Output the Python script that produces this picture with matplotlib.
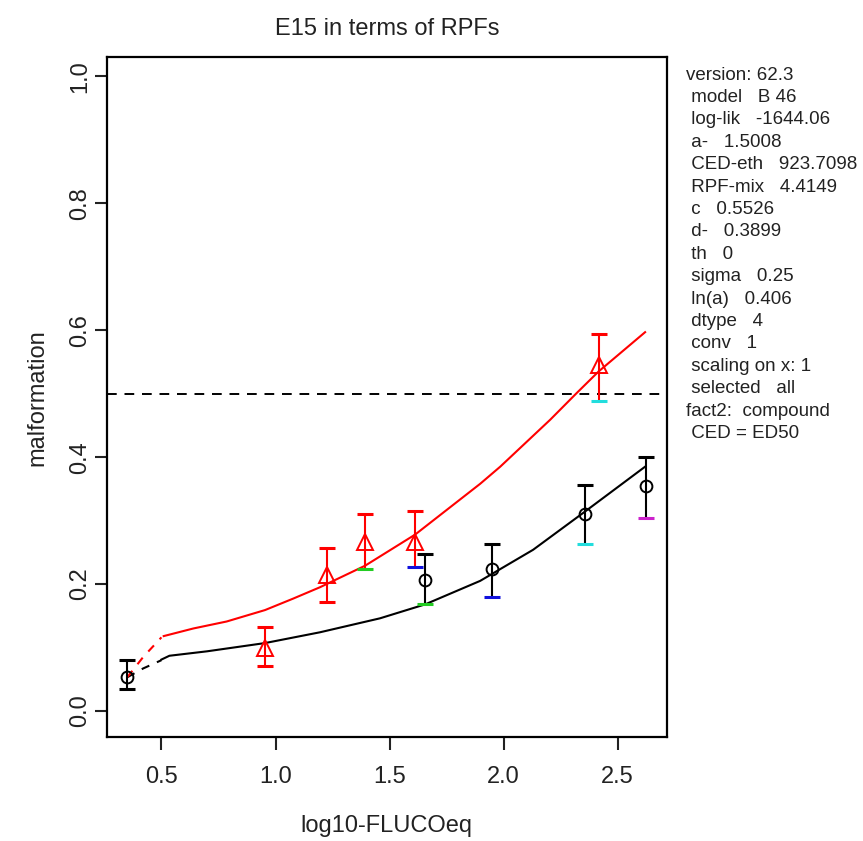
import matplotlib
matplotlib.use("Agg")
import matplotlib.pyplot as plt
import numpy as np

plt.rcParams['font.family'] = ['Liberation Sans', 'DejaVu Sans']

# ---- data ----
# black series (circles)
blk_x = [0.349, 1.656, 1.951, 2.357, 2.625]
blk_y = [0.053, 0.207, 0.223, 0.310, 0.354]
blk_hi = [0.081, 0.247, 0.263, 0.356, 0.400]
blk_lo = [0.034, 0.168, 0.179, 0.263, 0.304]
blk_lo_col = ['black', '#22cc22', '#1010dd', '#22dddd', '#cc22cc']

# red series (triangles)
red_x = [0.954, 1.225, 1.393, 1.612, 2.416]
red_y = [0.099, 0.214, 0.267, 0.267, 0.545]
red_hi = [0.133, 0.257, 0.310, 0.315, 0.594]
red_lo = [0.071, 0.172, 0.224, 0.227, 0.488]
red_lo_col = ['red', 'red', '#22cc22', '#1010dd', '#22dddd']

# fitted curves
blk_fit_dash_x = [0.35, 0.42, 0.50]
blk_fit_dash_y = [0.053, 0.067, 0.080]
blk_fit_x = [0.50, 0.535, 0.70, 0.954, 1.195, 1.458, 1.656, 1.897, 2.129, 2.348, 2.62]
blk_fit_y = [0.081, 0.087, 0.094, 0.107, 0.124, 0.146, 0.168, 0.205, 0.254, 0.312, 0.385]

red_fit_dash_x = [0.35, 0.42, 0.50]
red_fit_dash_y = [0.053, 0.085, 0.116]
red_fit_x = [0.51, 0.64, 0.786, 0.954, 1.077, 1.195, 1.393, 1.612, 1.897, 1.985, 2.204, 2.32, 2.416, 2.62]
red_fit_y = [0.118, 0.130, 0.141, 0.159, 0.177, 0.195, 0.229, 0.278, 0.358, 0.385, 0.459, 0.501, 0.535, 0.597]

ced_level = 0.5

x_ticks = [0.5, 1.0, 1.5, 2.0, 2.5]
y_ticks = [0.0, 0.2, 0.4, 0.6, 0.8, 1.0]

info_lines = [
    "version: 62.3",
    " model   B 46",
    " log-lik   -1644.06",
    " a-   1.5008",
    " CED-eth   923.7098",
    " RPF-mix   4.4149",
    " c   0.5526",
    " d-   0.3899",
    " th   0",
    " sigma   0.25",
    " ln(a)   0.406",
    " dtype   4",
    " conv   1",
    " scaling on x: 1",
    " selected   all",
    "fact2:  compound",
    " CED = ED50",
]

# ---- figure ----
fig = plt.figure(figsize=(8.63, 8.41), dpi=100)
ax = fig.add_axes([0.1236, 0.1237, 0.6493, 0.808])

lw = 1.5
# reference line
ax.axhline(ced_level, color='black', lw=1.4, ls=(0, (5, 4)))

# curves
ax.plot(blk_fit_dash_x, blk_fit_dash_y, color='black', lw=lw, ls=(0, (4, 4)))
ax.plot(blk_fit_x, blk_fit_y, color='black', lw=lw)
ax.plot(red_fit_dash_x, red_fit_dash_y, color='red', lw=lw, ls=(0, (4, 4)))
ax.plot(red_fit_x, red_fit_y, color='red', lw=lw)

# error bars
def draw_err(xs, ys, hi, lo, col, lo_cols, marker, ms):
    ax.vlines(xs, lo, hi, color=col, lw=lw)
    ax.plot(xs, hi, ls='none', marker='_', ms=11, mew=2.2, color=col)
    for x, l, c in zip(xs, lo, lo_cols):
        ax.plot([x], [l], ls='none', marker='_', ms=11, mew=2.2, color=c)
    ax.plot(xs, ys, ls='none', marker=marker, ms=ms, mfc='none', mec=col, mew=1.4)

draw_err(blk_x, blk_y, blk_hi, blk_lo, 'black', blk_lo_col, 'o', 8.5)
draw_err(red_x, red_y, red_hi, red_lo, 'red', red_lo_col, '^', 11)

ax.set_xlim(0.26, 2.716)
ax.set_ylim(-0.041, 1.03)
ax.set_xticks(x_ticks)
ax.set_xticklabels([f"{t:.1f}" for t in x_ticks])
ax.set_yticks(y_ticks)
ax.set_yticklabels([f"{t:.1f}" for t in y_ticks], rotation=90, va='center')

for s in ax.spines.values():
    s.set_linewidth(1.6)
ax.tick_params(axis='both', direction='out', length=9, width=1.5,
               labelsize=17, colors='#222222')
ax.tick_params(axis='x', pad=12)
ax.tick_params(axis='y', pad=2)

ax.set_xlabel("log10-FLUCOeq", fontsize=17, labelpad=19, color='#222222')
ax.set_ylabel("malformation", fontsize=17, labelpad=15, color='#222222')
ax.set_title("E15 in terms of RPFs", fontsize=17, pad=16, color='#222222')

# info panel
top_px = 75
step_px = 22.4
for i, line in enumerate(info_lines):
    ypix = top_px + i * step_px
    fig.text(686 / 863, 1 - ypix / 841, line, fontsize=13.5, ha='left', va='center',
             color='#222222')

fig.savefig("out.png", dpi=100)
